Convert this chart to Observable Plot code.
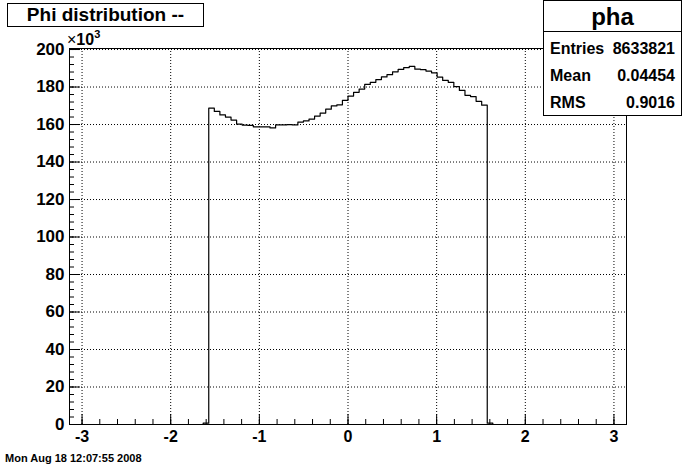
<!DOCTYPE html>
<html><head><meta charset="utf-8">
<script src="https://cdn.jsdelivr.net/npm/d3@7"></script>
<script src="https://cdn.jsdelivr.net/npm/@observablehq/plot@0.6"></script>
<style>
body{margin:0;background:#fff;}
#wrap{position:relative;width:696px;height:472px;overflow:hidden;background:#fff;font-family:"Liberation Sans",Arial,Helvetica,sans-serif;font-weight:bold;color:#000;}
#wrap svg{position:absolute;left:0;top:0;}
.box{position:absolute;background:#fff;border:1px solid #000;box-sizing:border-box;}
.abs{position:absolute;white-space:nowrap;}
</style></head><body><div id="wrap"></div>
<script>
// ---- data ----
const titleText = "Phi distribution --";
const histName = "pha";
const statLabels = ["Entries", "Mean", "RMS"];
const statValues = ["8633821", "0.04454", "0.9016"];
const dateText = "Mon Aug 18 12:07:55 2008";
const yExponent = "3";
const xMin = -Math.PI, xMax = Math.PI, nBins = 100;
const firstBin = 24;           // index of first listed bin; all other bins are empty
const counts = [               // bin contents in thousands, bins 24..75
  0.7,
  168.7, 167.0, 165.1, 164.0, 162.4, 160.2, 159.7, 159.6, 158.8, 158.7,
  158.8, 158.2, 159.8, 159.8, 159.9, 159.8, 161.3, 161.9, 162.9, 164.5,
  166.1, 168.2, 169.9, 170.5, 172.9, 175.2, 177.2, 178.9, 181.4, 182.5,
  184.0, 185.4, 186.6, 188.1, 189.4, 190.4, 191.0, 189.5, 189.3, 188.5,
  187.6, 185.3, 183.5, 182.5, 180.2, 178.2, 175.6, 174.9, 172.4, 170.3,
  0.7
];
const xTicks = [-3, -2, -1, 0, 1, 2, 3];
const yTicks = [0, 20, 40, 60, 80, 100, 120, 140, 160, 180, 200];
const yTop = 200.55;

// ---- build ----
const w = (xMax - xMin) / nBins;
const points = [];
for (let i = 0; i < nBins; i++) {
  const j = i - firstBin;
  points.push({x: xMin + i * w, y: (j >= 0 && j < counts.length) ? counts[j] : 0});
}
points.push({x: xMax, y: points[nBins - 1].y});
const xMinor = d3.range(-16, 17).map(k => k * 0.2).filter(v => v >= xMin && v <= xMax);
const yMinor = d3.range(0, 51).map(k => k * 4);

const font = '"Liberation Sans", Arial, Helvetica, sans-serif';
const plot = Plot.plot({
  width: 696, height: 472,
  marginLeft: 69, marginRight: 70, marginTop: 48, marginBottom: 48,
  x: {domain: [xMin, xMax], label: null},
  y: {domain: [0, yTop], label: null},
  style: {fontFamily: font, fontWeight: "bold", background: "transparent", color: "black", overflow: "visible"},
  marks: [
    Plot.gridX(xTicks, {stroke: "black", strokeOpacity: 1, strokeDasharray: "1,2"}),
    Plot.gridY(yTicks, {stroke: "black", strokeOpacity: 1, strokeDasharray: "1,2"}),
    Plot.line(points, {x: "x", y: "y", curve: "step-after", stroke: "black", strokeWidth: 1.2}),
    Plot.axisX(xMinor, {tickSize: -5, fill: "none", label: null}),
    Plot.axisX(xTicks, {tickSize: -10, fill: "none", label: null}),
    Plot.axisX(xTicks, {tickSize: 0, tickPadding: 6, tickFormat: d => String(d), fontSize: 16, label: null}),
    Plot.axisY(yMinor, {tickSize: -5, fill: "none", label: null}),
    Plot.axisY(yTicks, {tickSize: -11, fill: "none", label: null}),
    Plot.axisY(yTicks, {tickSize: 0, tickPadding: 5, tickFormat: d => String(d), fontSize: 17, label: null}),
    Plot.frame({stroke: "black"})
  ]
});
const wrap = document.getElementById("wrap");
wrap.appendChild(plot);

function el(cls, css, html) {
  const d = document.createElement("div");
  d.className = cls; d.style.cssText = css; if (html != null) d.innerHTML = html;
  wrap.appendChild(d); return d;
}
// title box
el("box", "left:7px;top:3px;width:197px;height:24px;font-size:19px;line-height:22px;text-align:center;", titleText);
// exponent label
el("abs", "left:67px;top:32px;font-size:16px;line-height:16px;", "<span style='font-weight:normal'>×</span>10<span style='position:relative;top:-7px;font-size:11px'>" + yExponent + "</span>");
// stats box
const sb = el("box", "left:543px;top:0px;width:139px;height:116px;");
const head = document.createElement("div");
head.style.cssText = "position:absolute;left:0;top:0;width:100%;height:31px;border-bottom:1px solid #000;box-sizing:border-box;text-align:center;font-size:24px;line-height:32px;";
head.textContent = histName; sb.appendChild(head);
const rowY = [40, 67, 94];
statLabels.forEach((lab, i) => {
  const r = document.createElement("div");
  r.style.cssText = `position:absolute;left:6px;right:6px;top:${rowY[i]}px;font-size:16px;line-height:16px;display:flex;justify-content:space-between;`;
  r.innerHTML = `<span>${lab}</span><span>${statValues[i]}</span>`;
  sb.appendChild(r);
});
// date footer
el("abs", "left:5px;top:453px;font-size:11px;line-height:11px;", dateText);
</script></body></html>
